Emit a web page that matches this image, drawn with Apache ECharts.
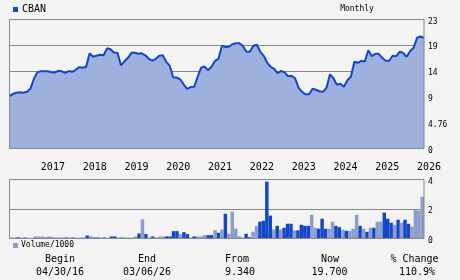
<!DOCTYPE html>
<html>
<head>
<meta charset="utf-8">
<script src="https://cdn.jsdelivr.net/npm/echarts@6/dist/echarts.min.js"></script>
<style>
html,body{margin:0;padding:0;background:#F3F3F3;}
#c{width:460px;height:280px;}
</style>
</head>
<body>
<div id="c"></div>
<script>
// ---- data ----
const startYear = 2016, startMonth = 4, monthCount = 120;
const months = [];
for (let k = 0; k < monthCount; k++) {
  const m = startMonth - 1 + k;
  const y = startYear + Math.floor(m / 12);
  const mm = (m % 12) + 1;
  months.push(y + '-' + (mm < 10 ? '0' + mm : '' + mm));
}
const yearTicks = ['2017','2018','2019','2020','2021','2022','2023','2024','2025','2026'];
const priceTickLabels = ['0','4.76','9','14','19','23'];
const volTickLabels = ['0','2','4'];

const price = [
  9.34, 9.75, 9.93,10.02, 9.93,10.11,10.64,12.43,13.62,13.76,
 13.76,13.76,13.58,13.55,13.85,13.76,13.50,13.80,13.67,14.03,
 14.51,14.39,14.57,16.97,16.35,16.53,16.70,16.62,17.86,17.69,
 17.11,17.06,14.83,15.55,16.17,17.06,17.06,16.88,16.97,16.62,
 15.99,15.67,15.99,16.53,16.62,15.46,14.74,12.66,12.66,12.34,
 11.45,10.64,10.95,11.00,12.78,14.39,14.65,13.94,14.57,15.64,
 15.99,18.31,18.08,18.13,18.58,18.75,18.75,18.31,17.24,17.24,
 18.31,18.49,17.24,16.53,15.28,14.57,14.21,13.41,13.85,13.58,
 12.87,12.96,12.52,10.82,10.11, 9.66, 9.66,10.64,10.47,10.20,
 10.11,10.82,13.23,12.52,11.36,11.53,10.99,12.16,12.78,15.46,
 15.28,15.64,15.51,17.51,16.44,16.88,16.88,16.17,15.64,15.64,
 16.53,16.44,17.24,17.06,16.35,17.33,17.95,19.74,19.97,19.70
];

const volume = [
 0.07,0.07,0.08,0.05,0.07,0.05,0.05,0.14,0.14,0.14,
 0.07,0.14,0.07,0.07,0.07,0.07,0.07,0.07,0.07,0.05,
 0.07,0.07,0.20,0.14,0.07,0.07,0.07,0.07,0.05,0.14,
 0.14,0.07,0.07,0.07,0.07,0.07,0.14,0.34,1.30,0.30,
 0.07,0.14,0.07,0.14,0.14,0.14,0.14,0.50,0.50,0.30,
 0.43,0.30,0.07,0.14,0.14,0.14,0.23,0.23,0.23,0.57,
 0.39,0.61,1.68,0.32,1.82,0.66,0.16,0.05,0.32,0.09,
 0.45,0.84,1.14,1.20,3.86,1.55,0.61,0.86,0.61,0.73,
 1.00,1.00,0.55,0.55,0.93,0.86,0.86,1.61,0.73,0.66,
 1.34,0.66,0.66,1.14,0.86,0.77,0.59,0.52,0.52,0.66,
 1.61,0.86,0.66,0.45,0.73,0.73,1.14,1.14,1.75,1.34,
 1.07,0.93,1.27,1.07,1.27,1.00,0.80,1.95,1.89,2.84
];

// 1 = up month (dark bar), 0 = down month (light bar)
const volUp = [
 0,0,1,0,1,0,0,0,0,0,
 1,0,1,0,0,0,1,0,1,0,
 0,0,1,0,1,1,0,1,0,1,
 1,0,1,0,0,0,0,1,0,1,
 0,1,0,0,0,1,1,1,1,0,
 1,1,0,1,0,0,0,1,1,0,
 1,0,1,0,0,0,0,1,1,1,
 0,0,1,1,1,1,0,1,0,1,
 1,1,0,1,1,1,1,0,0,1,
 1,1,0,0,1,1,0,1,0,0,
 0,1,0,1,0,1,0,0,1,1,
 1,0,1,0,1,1,0,0,0,0
];

const summary = {begin:'04/30/16', end:'03/06/26', from:'9.340', now:'19.700', change:'110.9%'};

// ---- styles ----
const DARK = '#1446C8', LIGHT = '#8B9DCB', FILL = '#9DB0DE', GRID = '#888888';
const MONO = '"DejaVu Sans Mono", "Liberation Mono", monospace';

const chart = echarts.init(document.getElementById('c'), null, {renderer:'canvas'});
const smallLbl = {fontFamily: MONO, fontSize: 8, color: '#000', verticalAlign: 'top', lineHeight: 4};
const txt = (x, y, s, size, align) => ({
  type:'text', x:x, y:y,
  style:{text:s, fill:'#000', font: size + 'px ' + MONO, textAlign: align || 'left', textVerticalAlign:'middle'}
});

chart.setOption({
  backgroundColor: '#F3F3F3',
  animation: false,
  grid: [
    {left: 9.5, right: 36, top: 19.5, height: 129, show: true, borderColor: GRID, borderWidth: 1, backgroundColor: 'transparent', z: 10},
    {left: 9.5, right: 36, top: 179.5, height: 59, show: true, borderColor: GRID, borderWidth: 1, backgroundColor: 'transparent', z: 10}
  ],
  xAxis: [
    {type:'category', gridIndex:0, data: months, boundaryGap:false,
     axisLine:{show:false}, axisTick:{show:false}, splitLine:{show:false},
     axisLabel:{interval:(i, v) => v.slice(5) === '01',
       formatter: v => yearTicks[yearTicks.indexOf(v.slice(0,4))] || '',
       align:'left', margin: 14, fontFamily: MONO, fontSize: 10, color:'#000'}},
    {type:'category', gridIndex:1, data: months, boundaryGap:true,
     axisLine:{show:false}, axisTick:{show:false}, splitLine:{show:false}, axisLabel:{show:false}}
  ],
  yAxis: [
    {type:'value', gridIndex:0, position:'right', min:0, max:23, interval:4.6,
     axisLine:{show:false}, axisTick:{show:false},
     splitLine:{show:true, lineStyle:{color:GRID, width:1}},
     axisLabel:Object.assign({margin:4,
       formatter: v => priceTickLabels[Math.round(v / 4.6)]}, smallLbl)},
    {type:'value', gridIndex:1, position:'right', min:0, max:4, interval:2,
     axisLine:{show:false}, axisTick:{show:false},
     splitLine:{show:true, lineStyle:{color:GRID, width:1}},
     axisLabel:Object.assign({margin:4,
       formatter: v => volTickLabels[Math.round(v / 2)]}, smallLbl)}
  ],
  series: [
    {type:'line', name:'CBAN', xAxisIndex:0, yAxisIndex:0, data: price,
     showSymbol:false, lineStyle:{color:DARK, width:2}, itemStyle:{color:DARK},
     areaStyle:{color:FILL, opacity:1}},
    {type:'bar', name:'Volume/1000', xAxisIndex:1, yAxisIndex:1,
     barCategoryGap:'0%', barGap:'0%',
     data: volume.map((v, i) => ({value: v, itemStyle:{color: volUp[i] ? DARK : LIGHT}}))}
  ],
  graphic: [
    {type:'rect', shape:{x:13, y:7, width:5, height:5}, style:{fill:DARK}},
    txt(22, 9, 'CBAN', 10),
    txt(357, 9, 'Monthly', 8, 'center'),
    {type:'rect', shape:{x:13, y:243, width:5, height:5}, style:{fill:LIGHT}},
    txt(21, 245, 'Volume/1000', 8),
    txt(60, 259.5, 'Begin', 10, 'center'),
    txt(60, 272.5, summary.begin, 10, 'center'),
    txt(147, 259.5, 'End', 10, 'center'),
    txt(147, 272.5, summary.end, 10, 'center'),
    txt(237, 259.5, 'From', 10, 'center'),
    txt(240, 272.5, summary.from, 10, 'center'),
    txt(330, 259.5, 'Now', 10, 'center'),
    txt(329.5, 272.5, summary.now, 10, 'center'),
    txt(414.5, 259.5, '% Change', 10, 'center'),
    txt(417, 272.5, summary.change, 10, 'center')
  ]
});
</script>
</body>
</html>
